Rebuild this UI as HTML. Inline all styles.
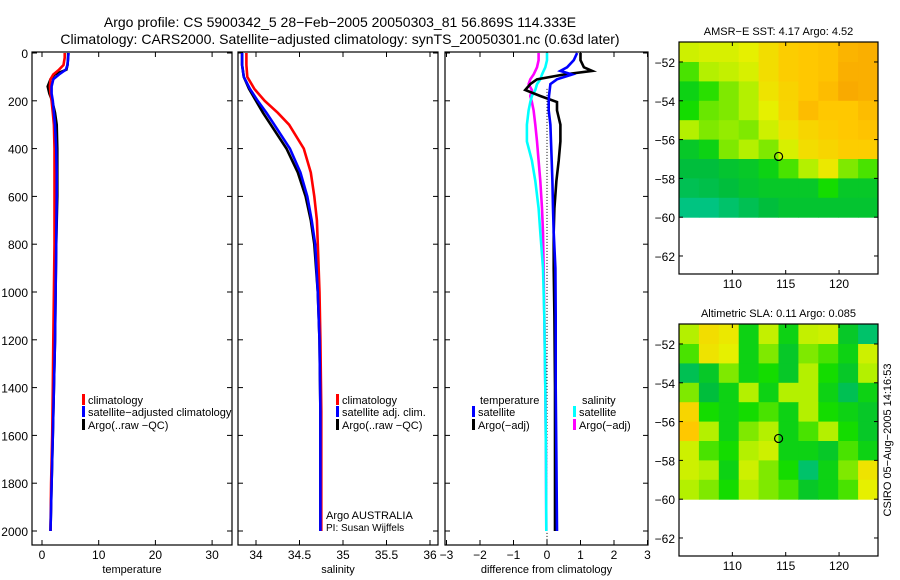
<!DOCTYPE html>
<html><head><meta charset="utf-8"><style>
body{margin:0;background:#fff;width:900px;height:580px;overflow:hidden}
svg{display:block;font-family:"Liberation Sans",sans-serif}
</style></head><body>
<svg id="c" width="900" height="580" viewBox="0 0 900 580">
<text x="340" y="27" font-size="14" text-anchor="middle">Argo profile: CS 5900342_5 28−Feb−2005 20050303_81 56.869S 114.333E</text>
<text x="340" y="44" font-size="14" text-anchor="middle">Climatology: CARS2000. Satellite−adjusted climatology: synTS_20050301.nc (0.63d later)</text>
</svg>
<script>
// ---- data ----
const tDepths=[0,20,50,70,90,110,140,170,200,250,300,400,500,600,800,1000,1200,1400,1600,1800,2000];
const tClim=[4.0,4.0,3.8,3.0,2.0,1.5,1.4,1.5,1.7,1.9,2.1,2.2,2.2,2.2,2.2,2.1,2.0,1.9,1.8,1.6,1.5];
const tSat=[4.7,4.6,4.5,4.2,3.0,2.0,1.7,1.7,1.9,2.1,2.3,2.5,2.6,2.6,2.5,2.4,2.3,2.1,1.9,1.7,1.5];
const tArgo=[4.6,4.6,4.5,4.3,2.2,1.5,1.0,1.3,1.8,2.3,2.6,2.7,2.7,2.7,2.5,2.4,2.3,2.1,1.9,1.7,1.5];
const sDepths=[0,50,100,150,200,250,300,400,500,600,700,800,1000,1200,1500,2000];
const sClim=[33.89,33.89,33.9,33.98,34.1,34.25,34.38,34.55,34.63,34.67,34.70,34.71,34.73,34.74,34.75,34.75];
const sSat=[33.84,33.84,33.86,33.93,34.02,34.12,34.21,34.39,34.51,34.59,34.64,34.68,34.71,34.73,34.74,34.74];
const sArgo=[33.84,33.84,33.86,33.92,34.0,34.08,34.17,34.35,34.48,34.57,34.63,34.67,34.71,34.73,34.74,34.74];
const dDepths=[0,30,60,75,90,110,130,155,180,205,240,300,370,450,535,650,750,900,1100,1400,1700,2000];
const dTempArgo=[1.0,1.0,1.1,1.35,0.5,-0.3,-0.5,-0.65,-0.2,0.3,0.3,0.4,0.4,0.35,0.28,0.22,0.2,0.2,0.22,0.24,0.24,0.24];
const dTempSat=[0.9,0.8,0.6,0.4,0.75,0.3,0.1,0.08,0.06,0.05,0.05,0.1,0.12,0.14,0.16,0.18,0.2,0.25,0.26,0.26,0.28,0.3];
const dSalArgo=[-0.25,-0.25,-0.3,-0.35,-0.4,-0.5,-0.55,-0.45,-0.5,-0.45,-0.4,-0.35,-0.3,-0.25,-0.2,-0.15,-0.12,-0.1,-0.08,-0.05,-0.03,-0.02];
const dSalSat=[0,0,-0.05,-0.1,-0.15,-0.2,-0.3,-0.35,-0.45,-0.5,-0.55,-0.6,-0.6,-0.45,-0.35,-0.25,-0.2,-0.12,-0.08,-0.05,-0.03,-0.02];
const depthTicks=[0,200,400,600,800,1000,1200,1400,1600,1800,2000];
const tTicks=[0,10,20,30];
const sTicks=[34,34.5,35,35.5,36];
const sTickLabels=["34","34.5","35","35.5","36"];
const dTicks=[-3,-2,-1,0,1,2,3];
const dTickLabels=["−3","−2","−1","0","1","2","3"];
const sstGrid=[
[0.6,0.62,0.62,0.65,0.72,0.78,0.8,0.82,0.88,0.9],
[0.45,0.55,0.58,0.62,0.72,0.78,0.8,0.82,0.9,0.9],
[0.35,0.42,0.5,0.55,0.7,0.76,0.8,0.85,0.92,0.9],
[0.4,0.48,0.5,0.55,0.65,0.75,0.85,0.8,0.8,0.85],
[0.55,0.5,0.52,0.5,0.6,0.7,0.75,0.78,0.8,0.82],
[0.3,0.35,0.5,0.55,0.5,0.62,0.72,0.75,0.78,0.78],
[0.25,0.25,0.28,0.3,0.35,0.45,0.55,0.68,0.5,0.45],
[0.2,0.22,0.25,0.28,0.3,0.3,0.3,0.4,0.3,0.3],
[0.1,0.1,0.15,0.2,0.25,0.28,0.28,0.28,0.28,0.28]];
const slaGrid=[
[0.55,0.72,0.68,0.35,0.58,0.35,0.58,0.6,0.3,0.15],
[0.45,0.7,0.65,0.35,0.5,0.3,0.5,0.45,0.35,0.6],
[0.2,0.3,0.5,0.35,0.4,0.3,0.55,0.4,0.3,0.55],
[0.5,0.25,0.35,0.55,0.35,0.55,0.55,0.35,0.2,0.35],
[0.75,0.4,0.35,0.4,0.45,0.35,0.55,0.4,0.35,0.3],
[0.8,0.55,0.35,0.5,0.55,0.35,0.45,0.55,0.4,0.3],
[0.6,0.45,0.4,0.55,0.6,0.35,0.35,0.3,0.45,0.35],
[0.6,0.55,0.35,0.6,0.5,0.4,0.15,0.35,0.5,0.7],
[0.55,0.5,0.4,0.55,0.5,0.45,0.3,0.35,0.45,0.65]];
const latTicks=[-52,-54,-56,-58,-60,-62];
const lonTicks=[110,115,120];
const argoLon=114.333, argoLat=-56.869;

// ---- drawing ----
const NS="http://www.w3.org/2000/svg";
const svg=document.getElementById('c');
function mk(tag,attrs){const e=document.createElementNS(NS,tag);for(const k in attrs)e.setAttribute(k,attrs[k]);svg.appendChild(e);return e;}
const PT=52,PB=545;
const yD=d=>PT+1+d*0.239;
function txt(x,y,s,anchor,size,name){const e=mk('text',{x:x,y:y,'font-size':size||12,'text-anchor':anchor||'start'});e.textContent=s;

return e;}
function panel(x0,x1,xs,ticks,labels,xlabel,name,showY){
  const r=mk('rect',{x:x0,y:PT,width:x1-x0,height:PB-PT,fill:'none',stroke:'#000','stroke-width':1.2});
  
  
  depthTicks.forEach(d=>{const y=yD(d);
    const t1=mk('line',{x1:x0,x2:x0+5,y1:y,y2:y,stroke:'#000'});
    
    
    const t2=mk('line',{x1:x1-5,x2:x1,y1:y,y2:y,stroke:'#000'});
    
    
    if(showY)txt(28,y+5,String(d),'end',12,'y-tick-label');});
  ticks.forEach((v,i)=>{const x=xs(v);
    const a=mk('line',{x1:x,x2:x,y1:PB,y2:PB-5,stroke:'#000'});
    
    
    const b=mk('line',{x1:x,x2:x,y1:PT,y2:PT+5,stroke:'#000'});
    
    
    txt(x,559,labels[i],'middle',12,'x-tick-label');});
  txt((x0+x1)/2,573,xlabel,'middle',11,'x-axis-title');
}
function line(xs,vals,depths,color,name,w){
  const pts=vals.map((v,i)=>xs(v).toFixed(1)+','+yD(depths[i]).toFixed(1)).join(' ');
  const p=mk('polyline',{points:pts,fill:'none',stroke:color,'stroke-width':w||2.6});
  
  
}
function legend(x,y,color,label,name){
  const r=mk('rect',{x:x,y:y-10,width:3,height:11,fill:color});
  
  
  txt(x+6,y,label,'start',11,name);
}
// panel 1 temperature
const xT=v=>42+v*5.67;
panel(32,232,xT,tTicks,tTicks.map(String),'temperature','temperature-panel',true);
line(xT,tArgo,tDepths,'#000','temp-argo-line');
line(xT,tClim,tDepths,'#f00','temp-climatology-line');
line(xT,tSat,tDepths,'#00f','temp-satellite-line');
legend(82,404,'#f00','climatology','legend-climatology');
legend(82,416,'#00f','satellite−adjusted climatology','legend-satellite');
legend(82,429,'#000','Argo(..raw −QC)','legend-argo');
// panel 2 salinity
const xS=v=>256+(v-34)*87;
panel(238,438,xS,sTicks,sTickLabels,'salinity','salinity-panel',false);
line(xS,sArgo,sDepths,'#000','sal-argo-line');
line(xS,sClim,sDepths,'#f00','sal-climatology-line');
line(xS,sSat,sDepths,'#00f','sal-satellite-line');
legend(336,404,'#f00','climatology','legend-climatology');
legend(336,416,'#00f','satellite adj. clim.','legend-satellite');
legend(336,429,'#000','Argo(..raw −QC)','legend-argo');
txt(326,519,'Argo AUSTRALIA','start',11,'argo-program-label');
txt(326,531,'PI: Susan Wijffels','start',10,'pi-label');
// panel 3 difference
const xD=v=>547+v*33.5;
panel(445,648,xD,dTicks,dTickLabels,'difference from climatology','difference-panel',false);
const dz=mk('line',{x1:xD(0),x2:xD(0),y1:yD(150),y2:PB,stroke:'#000','stroke-dasharray':'1,2'});


line(xD,dSalArgo,dDepths,'#f0f','diff-salinity-argo-line');
line(xD,dSalSat,dDepths,'#0ff','diff-salinity-satellite-line');
line(xD,dTempArgo,dDepths,'#000','diff-temperature-argo-line');
line(xD,dTempSat,dDepths,'#00f','diff-temperature-satellite-line');
txt(480,404,'temperature','start',11,'legend-temperature-heading');
legend(472,416,'#00f','satellite','legend-temp-satellite');
legend(472,429,'#000','Argo(−adj)','legend-temp-argo');
txt(582,404,'salinity','start',11,'legend-salinity-heading');
legend(573,416,'#0ff','satellite','legend-sal-satellite');
legend(573,429,'#f0f','Argo(−adj)','legend-sal-argo');
// maps
const stops=[[0,[0,200,175]],[0.25,[0,190,60]],[0.4,[20,220,0]],[0.55,[180,240,0]],[0.65,[230,240,0]],[0.8,[255,200,0]],[1,[245,150,0]]];
function cmap(v){for(let i=1;i<stops.length;i++){if(v<=stops[i][0]){const a=stops[i-1],b=stops[i],f=(v-a[0])/(b[0]-a[0]);
return 'rgb('+a[1].map((c,j)=>Math.round(c+(b[1][j]-c)*f)).join(',')+')';}}return 'rgb(245,150,0)';}
function map(top,grid,title,name){
  const X0=679,X1=878,H=232;
  const lonX=l=>X0+(l-105)*(X1-X0)/18.65;
  const latY=l=>top+( -50.97-l)*19.4;
  txt((X0+X1)/2,top-7,title,'middle',11,name+'-title');
  const nr=grid.length,nc=grid[0].length;
  grid.forEach((row,r)=>row.forEach((v,c)=>{
    const x=lonX(105+c*18.65/nc),y=latY(-51+(-r)*1);
    const cell=mk('rect',{x:x.toFixed(1),y:(r===0?top:y).toFixed(1),width:(18.65/nc*(X1-X0)/18.65+0.5).toFixed(1),height:(r===0?latY(-52)-top:19.9).toFixed(1),fill:cmap(v)});
    
    
  }));
  const fr=mk('rect',{x:X0,y:top,width:X1-X0,height:H,fill:'none',stroke:'#000','stroke-width':1.2});
  
  
  latTicks.forEach(l=>{const y=latY(l);
    const a=mk('line',{x1:X0,x2:X0+4,y1:y,y2:y,stroke:'#000'});
    
    
    const b=mk('line',{x1:X1-4,x2:X1,y1:y,y2:y,stroke:'#000'});
    
    
    txt(X0-4,y+5,String(l).replace('-','−'),'end',12,'lat-tick-label');});
  lonTicks.forEach(l=>{const x=lonX(l);
    const a=mk('line',{x1:x,x2:x,y1:top+H,y2:top+H-4,stroke:'#000'});
    
    
    const b=mk('line',{x1:x,x2:x,y1:top,y2:top+4,stroke:'#000'});
    
    
    txt(x,top+H+14,String(l),'middle',12,'lon-tick-label');});
  const c=mk('circle',{cx:lonX(argoLon),cy:latY(argoLat),r:4,fill:'none',stroke:'#000','stroke-width':1.2});
  
  
}
map(42,sstGrid,'AMSR−E SST: 4.17 Argo: 4.52','sst-map');
map(324,slaGrid,'Altimetric SLA: 0.11 Argo: 0.085','sla-map');
const cs=txt(0,0,'CSIRO 05−Aug−2005 14:16:53','middle',11,'csiro-timestamp');
cs.setAttribute('transform','translate(891,440) rotate(-90)');
</script>
</body></html>
